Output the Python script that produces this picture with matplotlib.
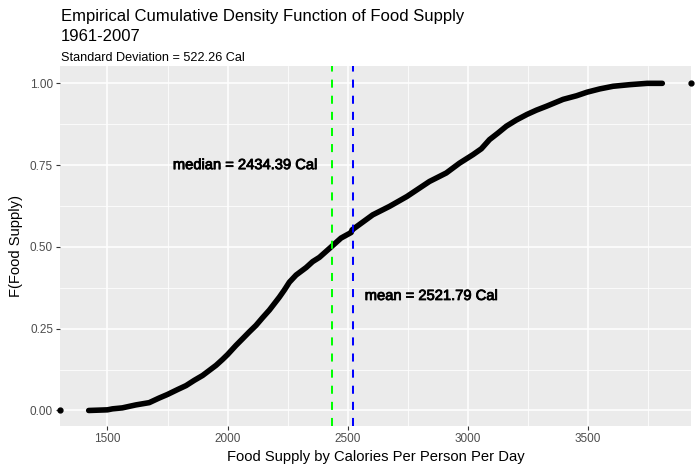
import matplotlib
matplotlib.use("Agg")
import matplotlib.pyplot as plt
import matplotlib.patheffects as pe

plt.rcParams['font.family'] = ['Liberation Sans', 'DejaVu Sans']

food_supply = [1422, 1500, 1521, 1562, 1618, 1674, 1715, 1750, 1792, 1827,
               1861, 1896, 1952, 1979, 2000, 2035, 2062, 2090, 2118, 2146,
               2174, 2215, 2236, 2257, 2285, 2327, 2354, 2382, 2431, 2472,
               2514, 2518, 2604, 2674, 2746, 2840, 2910, 2965, 3021, 3056,
               3090, 3125, 3160, 3202, 3246, 3285, 3327, 3396, 3452, 3496,
               3549, 3604, 3674, 3746, 3809]
ecdf = [0.0, 0.002, 0.005, 0.008, 0.017, 0.024, 0.038, 0.049, 0.064, 0.076,
        0.092, 0.107, 0.138, 0.156, 0.171, 0.199, 0.219, 0.24, 0.26, 0.284,
        0.307, 0.346, 0.368, 0.392, 0.414, 0.437, 0.455, 0.468, 0.50, 0.527,
        0.544, 0.552, 0.598, 0.624, 0.654, 0.70, 0.726, 0.756, 0.782, 0.80,
        0.828, 0.848, 0.869, 0.888, 0.905, 0.918, 0.930, 0.951, 0.962, 0.973,
        0.983, 0.991, 0.996, 1.0, 1.0]
median_cal = 2434.39
mean_cal = 2521.79
sd_cal = 522.26
x_ticks = [1500, 2000, 2500, 3000, 3500]
y_ticks = [0.0, 0.25, 0.5, 0.75, 1.0]

fig = plt.figure(figsize=(7, 4.73), dpi=100)
ax = fig.add_axes([60/700, 1 - 425.7/473, 631/700, 359.7/473])
ax.set_facecolor('#EBEBEB')

ax.set_xticks(x_ticks)
ax.set_yticks(y_ticks)
ax.set_yticklabels(['{:.2f}'.format(v) for v in y_ticks])
ax.set_xticks([1750, 2250, 2750, 3250, 3750], minor=True)
ax.set_yticks([0.125, 0.375, 0.625, 0.875], minor=True)

lo, hi = min(food_supply), max(food_supply)
pad = (hi - lo) * 0.05
ax.set_xlim(lo - pad, hi + pad)
ax.set_ylim(-0.0465, 1.053)

ax.grid(which='major', color='white', linewidth=1.1)
ax.grid(which='minor', color='white', linewidth=0.55)
ax.set_axisbelow(True)
for s in ax.spines.values():
    s.set_visible(False)
ax.tick_params(which='major', length=3, width=0.8, color='#333333',
               labelcolor='#4D4D4D', labelsize=8.5, pad=2)
ax.tick_params(which='minor', length=0)

ax.plot(food_supply, ecdf, color='black', linewidth=4.0,
        solid_capstyle='round', solid_joinstyle='round')
# -Inf / Inf steps of stat_ecdf
ax.plot([lo - pad, hi + pad], [0, 1], 'o', color='black', markersize=3.5,
        clip_on=False)

ax.axvline(median_cal, color='#00FF00', linewidth=1.45, dashes=(4, 4))
ax.axvline(mean_cal, color='#0000FF', linewidth=1.45, dashes=(4, 4))

heavy = [pe.withStroke(linewidth=0.6, foreground='black')]
ax.text(2074, 0.75, 'median = {:.2f} Cal'.format(median_cal), ha='center',
        va='center', fontsize=10.6, color='black', path_effects=heavy)
ax.text(2849, 0.35, 'mean = {:.2f} Cal'.format(mean_cal), ha='center',
        va='center', fontsize=10.6, color='black', path_effects=heavy)

ax.set_xlabel('Food Supply by Calories Per Person Per Day', fontsize=10.6,
              labelpad=4)
ax.set_ylabel('F(Food Supply)', fontsize=10.6, labelpad=5)

fig.text(61/700, 1 - 21/473, 'Empirical Cumulative Density Function of Food Supply',
         fontsize=12, va='baseline', ha='left')
fig.text(61/700, 1 - 41/473, '1961-2007', fontsize=12, va='baseline', ha='left')
fig.text(61/700, 1 - 60.7/473, 'Standard Deviation = {:.2f} Cal'.format(sd_cal),
         fontsize=9.1, va='baseline', ha='left')

fig.savefig('out.png', dpi=100)
